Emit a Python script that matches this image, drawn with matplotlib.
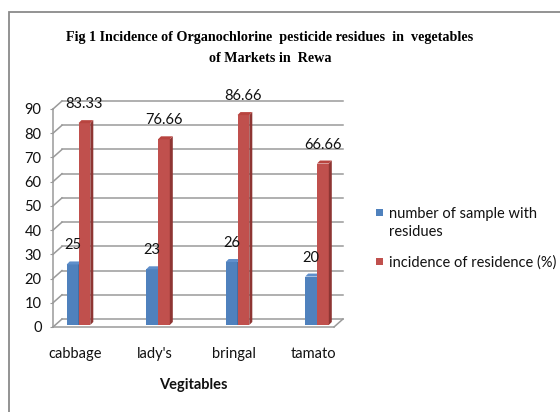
import matplotlib
matplotlib.use("Agg")
import matplotlib.pyplot as plt
from matplotlib.patches import Polygon, Rectangle
import numpy as np

categories = ["cabbage", "lady's", "bringal", "tamato"]
samples = [25, 23, 26, 20]
incidence = [83.33, 76.66, 86.66, 66.66]
series_names = ["number of sample with\nresidues", "incidence of residence (%)"]
yticks = list(range(0, 91, 10))

W, H = 560, 412
fig = plt.figure(figsize=(W / 100, H / 100), dpi=100)
SANS = ['Liberation Sans Narrow', 'Lato', 'DejaVu Sans']
plt.rcParams['font.family'] = SANS

# axes in pixel layout
L, R, B, T = 53, 334, 327, 109
ax = fig.add_axes([L / W, (H - B) / H, (R - L) / W, (B - T) / H])
spacing = 79.5
xmin = -22 / spacing
xmax = xmin + (R - L) / spacing
ax.set_xlim(xmin, xmax)
ax.set_ylim(0, 90)
pxx = (R - L) / (xmax - xmin)   # px per x unit
pxy = (B - T) / 90.0            # px per y unit

def ux(p):
    return p / pxx

def uy(p):
    return p / pxy

grid_c = '#9a9a9a'
# back wall gridlines + diagonals
bdx, bdy = ux(9), uy(8)
for v in yticks:
    ax.plot([xmin + bdx, xmax + bdx], [v + bdy, v + bdy], color=grid_c, lw=1.1, clip_on=False, zorder=1)
    ax.plot([xmin, xmin + bdx], [v, v + bdy], color=grid_c, lw=1.1, clip_on=False, zorder=1)
# floor right diagonal
ax.plot([xmax, xmax + bdx], [0, bdy], color=grid_c, lw=1.1, clip_on=False, zorder=1)

for s in ['top', 'right']:
    ax.spines[s].set_visible(False)
for s in ['left', 'bottom']:
    ax.spines[s].set_color(grid_c)
    ax.spines[s].set_linewidth(1.1)

x = np.arange(len(categories))
w = ux(11.8)
sx, sy = ux(3.5), uy(2)
ddx, ddy = ux(3), uy(3)

blue, blue_side, blue_top = '#4F81BD', '#385D8A', '#5F8FCB'
red, red_side, red_top = '#C0504D', '#8E3533', '#B8443F'

def draw_bars(xs, vals, fc, sc, tc):
    for xc, v in zip(xs, vals):
        x0 = xc - w / 2 + sx
        x1 = xc + w / 2 + sx
        top = v + sy
        ax.add_patch(Rectangle((x0, sy), w, v, facecolor=fc, edgecolor='none', zorder=3, clip_on=False))
        ax.add_patch(Polygon([(x1, sy), (x1 + ddx, sy + ddy), (x1 + ddx, top + ddy), (x1, top)],
                             closed=True, facecolor=sc, edgecolor='none', zorder=3, clip_on=False))
        ax.add_patch(Polygon([(x0, top), (x1, top), (x1 + ddx, top + ddy), (x0 + ddx, top + ddy)],
                             closed=True, facecolor=tc, edgecolor='none', zorder=3, clip_on=False))

draw_bars(x - w / 2, samples, blue, blue_side, blue_top)
draw_bars(x + w / 2, incidence, red, red_side, red_top)

fs = 10.5
txt_c = '#111111'
for xc, v in zip(x - w / 2, samples):
    ax.annotate(f"{v}", xy=(xc + sx, v + sy + ddy), xytext=(0, 16), textcoords='offset pixels',
                ha='center', va='center', fontsize=fs, color=txt_c, zorder=5, annotation_clip=False)
for xc, v in zip(x + w / 2, incidence):
    ax.annotate(f"{v:.2f}", xy=(xc + sx, v + sy + ddy), xytext=(0, 16), textcoords='offset pixels',
                ha='center', va='center', fontsize=fs, color=txt_c, zorder=5, annotation_clip=False)

ax.set_xticks(x)
ax.set_xticklabels(categories, fontsize=fs, color=txt_c)
ax.tick_params(axis='x', length=0, pad=14.5)
ax.set_yticks(yticks)
ax.set_yticklabels([str(t) for t in yticks], fontsize=fs, color=txt_c)
ax.tick_params(axis='y', length=2.2, color=grid_c, pad=6)
ax.set_xlabel("Vegitables", fontsize=fs, fontweight='bold', labelpad=12.5, color=txt_c)

# title
fig.text(270 / W, 1 - 37 / H, "Fig 1 Incidence of Organochlorine  pesticide residues  in  vegetables",
         ha='center', va='center', fontsize=10.2, fontweight='bold', family=['Liberation Serif', 'DejaVu Serif'])
fig.text(270 / W, 1 - 58 / H, "of Markets in  Rewa",
         ha='center', va='center', fontsize=10.2, fontweight='bold', family=['Liberation Serif', 'DejaVu Serif'])

# legend
leg_colors = [blue, red]
leg_y = [212.5, 261]
for name, c, yy in zip(series_names, leg_colors, leg_y):
    fig.patches.append(Rectangle((376 / W, 1 - (yy + 3.5) / H), 7 / W, 7 / H, transform=fig.transFigure,
                                 facecolor=c, edgecolor='none'))
    fig.text(389 / W, 1 - (yy - 5.5) / H, name, ha='left', va='top', fontsize=fs, linespacing=1.4,
             color=txt_c)

# outer frame
fig.patches.append(Rectangle((9 / W, -0.1), 1.2, 1.1 - 12 / H, transform=fig.transFigure,
                             facecolor='none', edgecolor='#8a8a8a', lw=1.3))

fig.savefig("out.png", dpi=100)
